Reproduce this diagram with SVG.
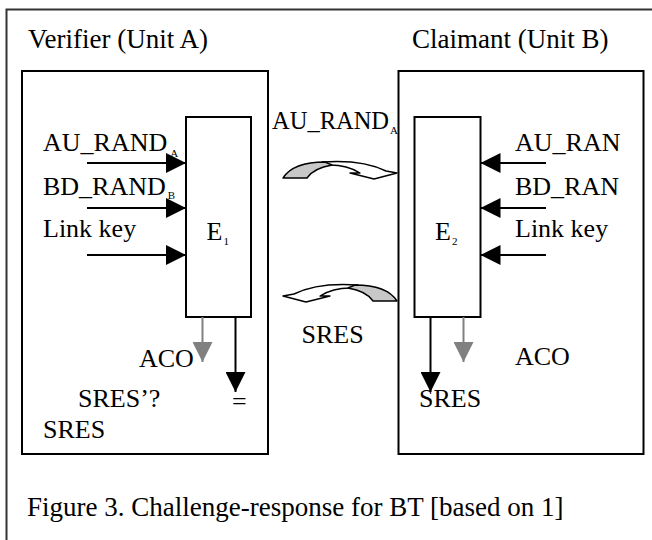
<svg xmlns="http://www.w3.org/2000/svg" width="652" height="540" viewBox="0 0 652 540">
<defs>
<style>
text{font-family:"Liberation Serif","Times New Roman",serif;fill:#000}
.t{font-size:27px}
.l{font-size:26px}
.s{font-size:11px}
.box{fill:#fff;stroke:#000;stroke-width:2}
.blk{stroke:#000;stroke-width:2;fill:none}
.gry{stroke:#808080;stroke-width:2;fill:none}
.curve{stroke:#000;stroke-width:1.4;stroke-linejoin:round}
</style>
<marker id="hb" markerUnits="userSpaceOnUse" markerWidth="20" markerHeight="20" refX="20" refY="10" orient="auto"><path d="M0,0 L20,10 L0,20 Z" fill="#000"/></marker>
<marker id="hg" markerUnits="userSpaceOnUse" markerWidth="20" markerHeight="20" refX="20" refY="10" orient="auto"><path d="M0,0 L20,10 L0,20 Z" fill="#808080"/></marker>
<g id="curvedArrow">
<path class="curve" fill="#fff" d="M322,162 C350,160 372,164 386,171 L397,173 L374,179 L350,173 L360,173 C352,168 342,165 330,165 Z"/>
<path class="curve" fill="#c8c8c8" d="M283,178 C290,167 305,162 325,162 L332,165 C320,167 311,172 307,178 Z"/>
</g>
</defs>
<rect width="652" height="540" fill="#fff"/>
<g id="frame"><path d="M652,9.5 H6.5 V540" fill="none" stroke="#333" stroke-width="2"/></g>
<text class="t" x="28" y="48">Verifier (Unit A)</text>
<text class="t" x="412" y="48">Claimant (Unit B)</text>

<g id="unitA">
<rect class="box" x="22" y="71" width="246" height="383"/>
</g>
<g id="unitB">
<rect class="box" x="398.5" y="71" width="245" height="383"/>
</g>

<g id="E1">
<rect class="box" x="186" y="117" width="65" height="200"/>
<text class="l" x="206.5" y="240">E<tspan class="s" dx="1" dy="5">1</tspan></text>
</g>
<g id="E2">
<rect class="box" x="414.5" y="117" width="66" height="200"/>
<text class="l" x="435" y="240">E<tspan class="s" dx="1" dy="5">2</tspan></text>
</g>

<g id="labels">
<text class="l" x="43" y="151">AU_RAND<tspan class="s" dx="3" dy="6">A</tspan></text>
<text class="l" x="43" y="195">BD_RAND<tspan class="s" dx="2" dy="4">B</tspan></text>
<text class="l" x="43" y="237">Link key</text>
<text class="l" x="515" y="151">AU_RAN</text>
<text class="l" x="515" y="195">BD_RAN</text>
<text class="l" x="515" y="237">Link key</text>
<text x="272" y="129" style="font-size:24.5px">AU_RAND<tspan class="s" dx="1" dy="5">A</tspan></text>
<text class="l" x="301.5" y="343">SRES</text>
<text class="l" x="139" y="366.5">ACO</text>
<text class="l" x="78" y="406.5">SRES’?</text>
<text class="l" x="43" y="438">SRES</text>
<text class="l" x="232" y="409.5">=</text>
<text class="l" x="419" y="406.5">SRES</text>
<text class="l" x="515" y="365">ACO</text>
</g>

<g id="connectors">
<line class="blk" x1="87" y1="163" x2="186" y2="163" marker-end="url(#hb)"/>
<line class="blk" x1="87" y1="208" x2="186" y2="208" marker-end="url(#hb)"/>
<line class="blk" x1="87" y1="255" x2="186" y2="255" marker-end="url(#hb)"/>
<line class="blk" x1="546" y1="163" x2="480.5" y2="163" marker-end="url(#hb)"/>
<line class="blk" x1="546" y1="208" x2="480.5" y2="208" marker-end="url(#hb)"/>
<line class="blk" x1="546" y1="255" x2="480.5" y2="255" marker-end="url(#hb)"/>
<line class="gry" x1="202.5" y1="317" x2="202.5" y2="362" marker-end="url(#hg)"/>
<line class="blk" x1="235.5" y1="317" x2="235.5" y2="392" marker-end="url(#hb)"/>
<line class="blk" x1="430.5" y1="317" x2="430.5" y2="392" marker-end="url(#hb)"/>
<line class="gry" x1="463.5" y1="317" x2="463.5" y2="362" marker-end="url(#hg)"/>
<use href="#curvedArrow"/>
<use href="#curvedArrow" transform="translate(680,123) scale(-1,1)"/>
</g>

<text class="t" x="27" y="516">Figure 3. Challenge-response for BT [based on 1]</text>
</svg>
